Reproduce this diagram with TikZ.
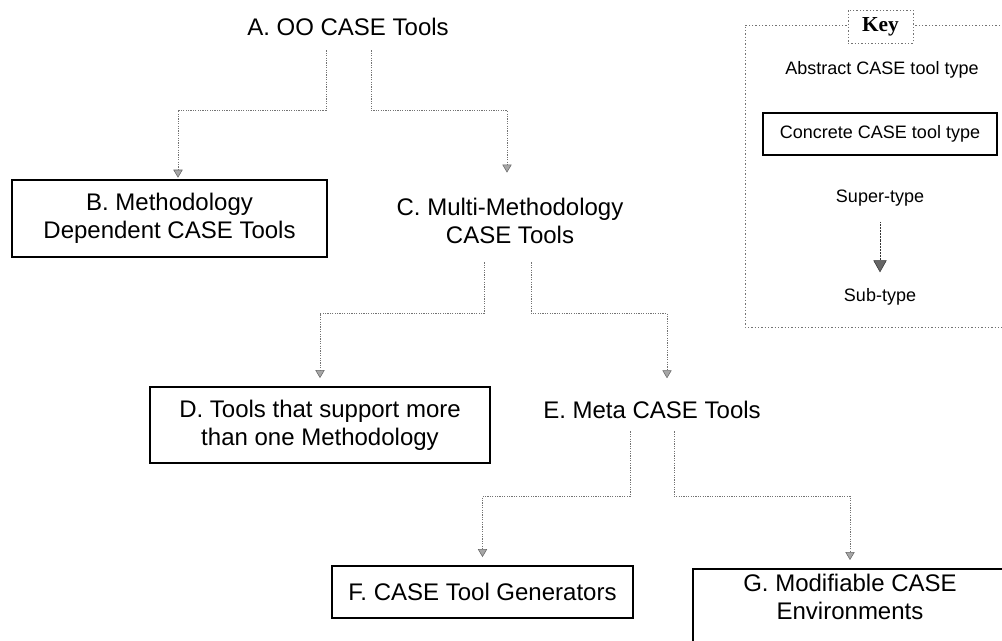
\documentclass[tikz,border=0pt]{standalone}
\usepackage{fontspec}
\setmainfont{Liberation Sans}
\newfontfamily\keyfont{Liberation Serif}
\usetikzlibrary{arrows.meta,calc}

\begin{document}
\begin{tikzpicture}[x=0.75pt,y=0.75pt,yscale=-1,xscale=1,
  typebox/.style={draw, line width=1.4pt, align=center, font=\fontsize{18}{21}\selectfont, inner sep=0pt},
  typetext/.style={align=center, font=\fontsize{18}{21}\selectfont, inner sep=1pt},
  keytext/.style={font=\fontsize{13.5}{16}\selectfont, inner sep=1pt},
  isa/.style={draw=black!55, line width=0.5pt, dash pattern=on 0.9pt off 0.9pt, shorten >=6pt,
    -{Triangle[width=7pt,length=6pt,fill=black!35,color=black!60,line width=0.4pt]}},
  keyisa/.style={draw=black!80, line width=0.7pt, dash pattern=on 0.7pt off 0.4pt,
    -{Triangle[width=10pt,length=9pt,fill=black!60,color=black!80,line width=0.4pt]}},
  keyframe/.style={draw=black!55, line width=0.5pt, dash pattern=on 0.9pt off 1.6pt},
]
\useasboundingbox (0,0) rectangle (1002,641);
\clip (0,0) rectangle (1002,641);

% Text Node
\node[typetext] (a) at (348,27) {A. OO CASE Tools};
% Text Node
\node[typebox, minimum width=236.25pt, minimum height=57.75pt] (b) at (169.5,218.5) {B. Methodology\\Dependent CASE Tools};
% Text Node
\node[typetext] (c) at (510,221) {C. Multi-Methodology\\CASE Tools};
% Text Node
\node[typebox, minimum width=255pt, minimum height=57pt] (d) at (320,425) {D. Tools that support more\\than one Methodology};
% Text Node
\node[typetext] (e) at (652,410) {E. Meta CASE Tools};
% Text Node
\node[typebox, minimum width=225.75pt, minimum height=39pt] (f) at (482.5,592) {F. CASE Tool Generators};
% Text Node
\node[typebox, anchor=north, minimum width=235.5pt, inner sep=4pt, text depth=40pt] (g) at (850,568) {G. Modifiable CASE\\Environments};

%Straight Lines
\draw[isa, shorten >=1pt] ($(a.south)+(-22,13)$) -- ++(0,60) -| ($(b.north)+(8.5,0)$);
\draw[isa, shorten >=18pt] ($(a.south)+(23,13)$) -- ++(0,60) -| ($(c.north)+(-3,0)$);
\draw[isa] ($(c.south)+(-26,17)$) -- ++(0,51) -| (d.north);
\draw[isa, shorten >=16pt] ($(c.south)+(21,17)$) -- ++(0,51) -| ($(e.north)+(15,0)$);
\draw[isa] ($(e.south)+(-22,11)$) -- ++(0,65) -| (f.north);
\draw[isa] ($(e.south)+(22,11)$) -- ++(0,65) -| (g.north);

% Key
\draw[keyframe] (1010,25) -- (745,25) -- (745,327) -- (1010,327);
\node[keyframe, fill=white, minimum width=48.75pt, minimum height=24.75pt, inner sep=0pt,
  font=\fontsize{16}{18}\selectfont\keyfont\bfseries] (key) at (880.5,26.5) {Key};
\node[keytext] (abs) at (882,70) {Abstract CASE tool type};
\node[keytext, draw, line width=1.4pt, minimum width=175.5pt, minimum height=31.5pt] (con) at (880,134) {Concrete CASE tool type};
\node[keytext] (sup) at (880,198) {Super-type};
\node[keytext] (sub) at (880,297) {Sub-type};
\draw[keyisa, shorten <=11pt, shorten >=11pt] (sup) -- (sub);

\end{tikzpicture}
\end{document}
